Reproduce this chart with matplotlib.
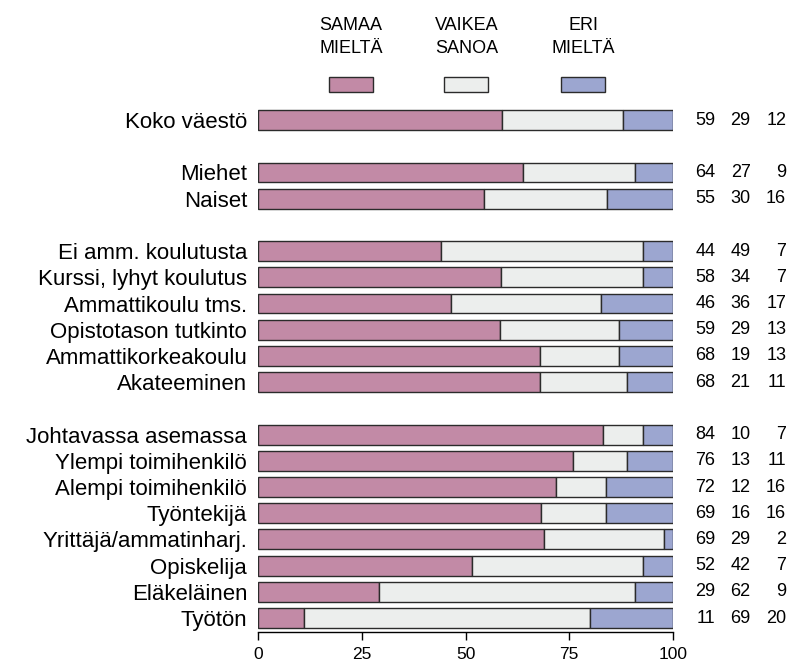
import matplotlib
matplotlib.use("Agg")
import matplotlib.pyplot as plt
from matplotlib.patches import Rectangle

plt.rcParams["font.family"] = ["Liberation Sans", "DejaVu Sans"]

# Row labels, top to bottom; None marks an empty gap row
categories = [
    "Koko väestö", None,
    "Miehet", "Naiset", None,
    "Ei amm. koulutusta", "Kurssi, lyhyt koulutus", "Ammattikoulu tms.",
    "Opistotason tutkinto", "Ammattikorkeakoulu", "Akateeminen", None,
    "Johtavassa asemassa", "Ylempi toimihenkilö", "Alempi toimihenkilö",
    "Työntekijä", "Yrittäjä/ammatinharj.", "Opiskelija", "Eläkeläinen", "Työtön",
]

# bar segment widths (%)
samaa = [58.9, 63.9, 54.4, 44.0, 58.6, 46.4, 58.3, 67.9, 67.9,
         83.1, 75.9, 71.9, 68.3, 68.9, 51.5, 29.1, 11.1]
vaikea = [29.0, 27.0, 29.7, 48.9, 34.2, 36.3, 28.7, 19.1, 21.0,
          9.8, 13.0, 12.1, 15.7, 28.9, 41.4, 61.8, 68.9]
eri = [12.1, 9.1, 15.9, 7.1, 7.2, 17.3, 13.0, 13.0, 11.1,
       7.1, 11.1, 16.0, 16.0, 2.2, 7.1, 9.1, 20.0]

# printed numbers on the right
lab_samaa = [59, 64, 55, 44, 58, 46, 59, 68, 68, 84, 76, 72, 69, 69, 52, 29, 11]
lab_vaikea = [29, 27, 30, 49, 34, 36, 29, 19, 21, 10, 13, 12, 16, 29, 42, 62, 69]
lab_eri = [12, 9, 16, 7, 7, 17, 13, 13, 11, 7, 11, 16, 16, 2, 7, 9, 20]

xticks = [0, 25, 50, 75, 100]

series_names = ["SAMAA\nMIELTÄ", "VAIKEA\nSANOA", "ERI\nMIELTÄ"]
COLORS = ["#c28aa6", "#eceeed", "#9ca6d0"]
EDGE = "#2b2b2b"

ypos = [i for i, c in enumerate(categories) if c is not None]
names = [c for c in categories if c is not None]

fig = plt.figure(figsize=(7.89, 6.64), dpi=100)
ax = fig.add_axes([0.3274, 0.0482, 0.5252, 0.7947])

left = [0] * len(samaa)
for vals, col in zip([samaa, vaikea, eri], COLORS):
    ax.barh(ypos, vals, left=left, height=0.76, color=col,
            edgecolor=EDGE, linewidth=1.0)
    left = [l + v for l, v in zip(left, vals)]

# numbers column (right aligned)
for y, a, b, c in zip(ypos, lab_samaa, lab_vaikea, lab_eri):
    for xv, v in zip([110.3, 118.8, 127.4], [a, b, c]):
        ax.text(xv, y, str(v), ha="right", va="center", fontsize=13,
                clip_on=False)

ax.set_yticks(ypos)
ax.set_yticklabels(names, fontsize=16)
ax.tick_params(axis="y", length=0, pad=8)
ax.set_xticks(xticks)
ax.set_xticklabels([str(t) for t in xticks], fontsize=12.5)
ax.tick_params(axis="x", direction="out", length=6, width=1, pad=5)
ax.set_xlim(0, 100)
ax.set_ylim(19.53, -0.6)
for s in ["top", "right", "left"]:
    ax.spines[s].set_visible(False)
ax.spines["bottom"].set_linewidth(1)

# legend drawn at the top: text above a small swatch
W, H = 789.0, 664.0
legend_cx = [351, 466.5, 583]
for cx, name, col in zip(legend_cx, series_names, COLORS):
    fig.text(cx / W, 1 - 37 / H, name, ha="center", va="center",
             fontsize=13, linespacing=1.45)
    fig.patches.append(Rectangle(((cx - 22) / W, 1 - 92 / H), 44 / W, 14.5 / H,
                                 transform=fig.transFigure, facecolor=col,
                                 edgecolor=EDGE, linewidth=1.0))

fig.savefig("out.png", dpi=100)
